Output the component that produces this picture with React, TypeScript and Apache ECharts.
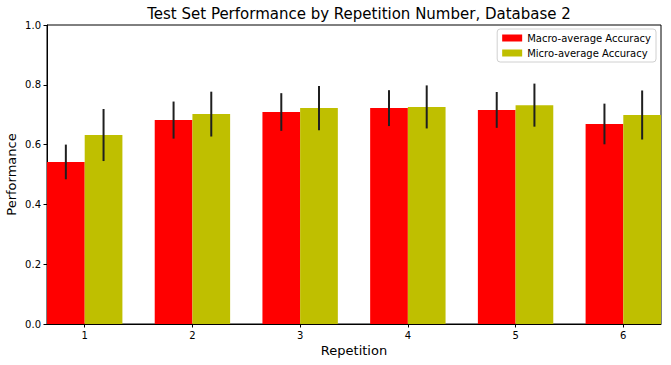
import React, { useEffect, useRef } from "react";
import * as echarts from "echarts";

const categories = [1, 2, 3, 4, 5, 6];
const macroValues = [0.542, 0.682, 0.709, 0.722, 0.716, 0.669];
const macroErrors = [0.058, 0.062, 0.063, 0.06, 0.06, 0.068];
const microValues = [0.632, 0.702, 0.722, 0.726, 0.732, 0.699];
const microErrors = [0.087, 0.075, 0.074, 0.072, 0.072, 0.082];
const yTicks = [0, 0.2, 0.4, 0.6, 0.8, 1.0];

const BAR_W = 0.35;
const FONT = "DejaVu Sans";

function makeRender(offset: number, color: string) {
  return (params: any, api: any) => {
    const x = api.value(0);
    const y = api.value(1);
    const err = api.value(2);
    const tl = api.coord([x + offset, y]);
    const br = api.coord([x + offset + BAR_W, 0]);
    const cx = api.coord([x + offset + BAR_W / 2, 0])[0];
    const hi = api.coord([x, y + err])[1];
    const lo = api.coord([x, y - err])[1];
    return {
      type: "group",
      children: [
        {
          type: "rect",
          shape: { x: tl[0], y: tl[1], width: br[0] - tl[0], height: br[1] - tl[1] },
          style: { fill: color },
        },
        {
          type: "line",
          shape: { x1: cx, y1: hi, x2: cx, y2: lo },
          style: { stroke: "#1f1f1f", lineWidth: 2 },
          z2: 10,
        },
      ],
    };
  };
}

export default function App() {
  const ref = useRef<HTMLDivElement>(null);
  useEffect(() => {
    const chart = echarts.init(ref.current!, null, { renderer: "svg" });
    chart.setOption({
      animation: false,
      title: {
        text: "Test Set Performance by Repetition Number, Database 2",
        left: 354,
        textAlign: "center",
        top: 1,
        textStyle: { fontFamily: FONT, fontSize: 15, fontWeight: "normal", color: "#000" },
      },
      legend: {
        orient: "vertical",
        right: 15,
        top: 29,
        itemWidth: 20,
        itemHeight: 7,
        itemGap: 5,
        icon: "rect",
        padding: [4, 5, 4, 5],
        borderColor: "#d0d0d0",
        borderWidth: 1,
        borderRadius: 3,
        backgroundColor: "#fff",
        textStyle: { fontFamily: FONT, fontSize: 10, color: "#000" },
        data: ["Macro-average Accuracy", "Micro-average Accuracy"],
      },
      grid: {
        left: 47,
        right: 10,
        top: 25,
        bottom: 41,
        containLabel: false,
        outerBoundsMode: "none",
        show: true,
        borderColor: "#000",
        borderWidth: 1,
        backgroundColor: "transparent",
      },
      xAxis: {
        type: "value",
        min: 0.65,
        max: 6.35,
        name: "Repetition",
        nameLocation: "middle",
        nameGap: 20,
        nameMoveOverlap: false,
        nameTextStyle: { fontFamily: FONT, fontSize: 13, color: "#000" },
        axisLine: { show: true, lineStyle: { color: "#000" } },
        axisTick: { show: true, length: 3.5, lineStyle: { color: "#000" }, customValues: categories },
        axisLabel: {
          show: true,
          margin: 6,
          fontFamily: FONT,
          fontSize: 10,
          color: "#000",
          customValues: categories,
          formatter: (v: number) => String(v),
        },
        splitLine: { show: false },
      },
      yAxis: {
        type: "value",
        min: 0,
        max: 1,
        interval: 0.2,
        name: "Performance",
        nameLocation: "middle",
        nameGap: 29,
        nameMoveOverlap: false,
        nameTextStyle: { fontFamily: FONT, fontSize: 13, color: "#000" },
        axisLine: { show: true, lineStyle: { color: "#000" } },
        axisTick: { show: true, length: 3.5, lineStyle: { color: "#000" }, customValues: yTicks },
        axisLabel: {
          margin: 6,
          fontFamily: FONT,
          fontSize: 10,
          color: "#000",
          customValues: yTicks,
          formatter: (v: number) => v.toFixed(1),
        },
        splitLine: { show: false },
      },
      series: [
        {
          type: "custom",
          name: "Macro-average Accuracy",
          itemStyle: { color: "#ff0000" },
          renderItem: makeRender(-BAR_W, "#ff0000"),
          encode: { x: 0, y: 1 },
          data: categories.map((c, i) => [c, macroValues[i], macroErrors[i]]),
        },
        {
          type: "custom",
          name: "Micro-average Accuracy",
          itemStyle: { color: "#bfbf00" },
          renderItem: makeRender(0, "#bfbf00"),
          encode: { x: 0, y: 1 },
          data: categories.map((c, i) => [c, microValues[i], microErrors[i]]),
        },
      ],
    });
    return () => chart.dispose();
  }, []);
  return (
    <div
      ref={ref}
      style={{ position: "absolute", left: 0, top: 0, width: 671, height: 365, background: "#fff" }}
    />
  );
}
